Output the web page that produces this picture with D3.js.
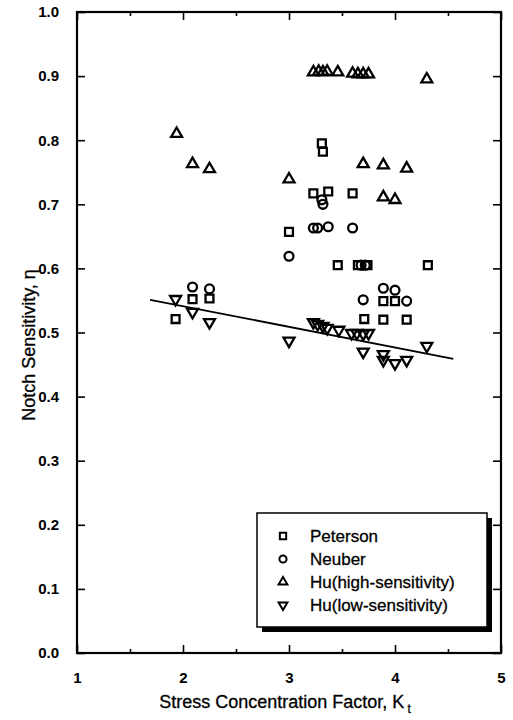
<!DOCTYPE html>
<html>
<head>
<meta charset="utf-8">
<script src="https://cdn.jsdelivr.net/npm/d3@7"></script>
<style>
  body { margin: 0; background: #fff; }
  text { font-family: "Liberation Sans", Arial, sans-serif; fill: #000; }
</style>
</head>
<body>
<div id="chart"></div>
<script>
// data
var peterson = [[1.93,0.521],[2.09,0.552],[2.25,0.553],[3.0,0.657],[3.23,0.717],[3.37,0.720],
  [3.60,0.717],[3.31,0.795],[3.32,0.782],[3.46,0.605],[3.65,0.605],[3.74,0.605],[4.31,0.605],
  [3.89,0.549],[4.0,0.549],[3.71,0.521],[3.89,0.520],[4.11,0.520]];
var neuber = [[2.09,0.571],[2.25,0.568],[3.0,0.619],[3.23,0.663],[3.27,0.663],[3.37,0.665],
  [3.60,0.663],[3.31,0.707],[3.32,0.700],[3.68,0.605],[3.72,0.605],[3.89,0.569],[4.0,0.566],
  [3.70,0.551],[4.11,0.549]];
var huHigh = [[1.94,0.81],[2.09,0.763],[2.25,0.755],[3.0,0.739],[3.70,0.763],[3.89,0.761],
  [4.11,0.756],[3.89,0.711],[4.0,0.707],[3.23,0.906],[3.28,0.907],[3.32,0.906],[3.36,0.907],
  [3.46,0.906],[3.60,0.904],[3.65,0.903],[3.70,0.903],[3.75,0.903],[4.30,0.895]];
var huLow = [[1.93,0.552],[2.09,0.532],[2.25,0.516],[3.0,0.487],[3.23,0.516],[3.27,0.513],
  [3.32,0.510],[3.36,0.507],[3.47,0.504],[3.59,0.499],[3.64,0.499],[3.70,0.498],[3.75,0.499],
  [3.70,0.470],[3.89,0.466],[3.89,0.457],[4.0,0.452],[4.11,0.457],[4.30,0.479]];
var fitLine = [[1.69,0.551],[4.55,0.459]];

var xTicks = [1,2,3,4,5];
var xMinor = [1.5,2.5,3.5,4.5];
var yTicks = [0,0.1,0.2,0.3,0.4,0.5,0.6,0.7,0.8,0.9,1.0];
var legendNames = ["Peterson","Neuber","Hu(high-sensitivity)","Hu(low-sensitivity)"];

var width = 513, height = 720;
var margin = {left: 77, right: 12, top: 12, bottom: 67};

var svg = d3.select("#chart").append("svg")
    .attr("width", width)
    .attr("height", height);

var x = d3.scaleLinear().domain([1,5]).range([margin.left, width - margin.right]);
var y = d3.scaleLinear().domain([0,1]).range([height - margin.bottom, margin.top]);

var plotW = x(5) - x(1), plotH = y(0) - y(1);

//axes, ticks pointing inward
svg.append("g").attr("transform","translate(0," + y(0) + ")")
    .call(d3.axisBottom(x).tickValues(xTicks).tickSize(-8).tickFormat(d3.format("d")).tickPadding(19));
svg.append("g").attr("transform","translate(0," + y(0) + ")")
    .call(d3.axisBottom(x).tickValues(xMinor).tickSize(-4).tickFormat(""));
svg.append("g").attr("transform","translate(0," + y(1) + ")")
    .call(d3.axisTop(x).tickValues(xTicks).tickSize(-8).tickFormat(""));
svg.append("g").attr("transform","translate(0," + y(1) + ")")
    .call(d3.axisTop(x).tickValues(xMinor).tickSize(-4).tickFormat(""));
svg.append("g").attr("transform","translate(" + x(1) + ",0)")
    .call(d3.axisLeft(y).tickValues(yTicks).tickSize(-8).tickFormat(d3.format(".1f")).tickPadding(18));
svg.append("g").attr("transform","translate(" + x(5) + ",0)")
    .call(d3.axisRight(y).tickValues(yTicks).tickSize(-8).tickFormat(""));

svg.selectAll(".domain").remove();
svg.selectAll(".tick line").attr("stroke","#000").attr("stroke-width",1.6);
svg.selectAll(".tick text").style("font-size","15px").style("font-weight","bold")
    .style("font-family","'Liberation Sans', Arial, sans-serif");

svg.append("rect")
    .attr("x", x(1)).attr("y", y(1))
    .attr("width", plotW).attr("height", plotH)
    .attr("fill","none").attr("stroke","#000").attr("stroke-width",2.2);

// fit line
var line = d3.line().x(d => x(d[0])).y(d => y(d[1]));
svg.append("path").datum(fitLine)
    .attr("d", line)
    .attr("fill","none").attr("stroke","#000").attr("stroke-width",1.8);

// markers
var sq = d3.symbol().type(d3.symbolSquare).size(62);
var ci = d3.symbol().type(d3.symbolCircle).size(62);
var tri = d3.symbol().type(d3.symbolTriangle).size(52);
var series = [
  {data: peterson, path: sq(), rot: 0},
  {data: neuber, path: ci(), rot: 0},
  {data: huHigh, path: tri(), rot: 0},
  {data: huLow, path: tri(), rot: 180}
];

series.forEach(function(s){
  svg.append("g").selectAll("path")
    .data(s.data)
    .enter()
    .append("path")
    .attr("d", s.path)
    .attr("transform", d => "translate(" + x(d[0]) + "," + y(d[1]) + ") rotate(" + s.rot + ")")
    .attr("fill","none")
    .attr("stroke","#000")
    .attr("stroke-width",2.3);
});

// legend
var lg = svg.append("g").attr("transform","translate(257,513)");
lg.append("rect").attr("x",5).attr("y",5).attr("width",230).attr("height",114).attr("fill","#000");
lg.append("rect").attr("x",0).attr("y",0).attr("width",230).attr("height",114)
    .attr("fill","#fff").attr("stroke","#000").attr("stroke-width",1.5);

var sqS = d3.symbol().type(d3.symbolSquare).size(40);
var ciS = d3.symbol().type(d3.symbolCircle).size(40);
var triS = d3.symbol().type(d3.symbolTriangle).size(34);
var legSyms = [[sqS(),0],[ciS(),0],[triS(),0],[triS(),180]];

legendNames.forEach(function(name,i){
  var row = lg.append("g").attr("transform","translate(0," + (23 + i*23) + ")");
  row.append("path").attr("d", legSyms[i][0])
     .attr("transform","translate(26,0) rotate(" + legSyms[i][1] + ")")
     .attr("fill","none").attr("stroke","#000").attr("stroke-width",2);
  row.append("text").attr("x",53).attr("y",6)
     .style("font-size","17px")
     .attr("stroke","#000").attr("stroke-width",0.3)
     .text(name);
});

// axis titles
var xt = svg.append("text")
    .attr("x", 285).attr("y", 708)
    .attr("text-anchor","middle")
    .attr("stroke","#000").attr("stroke-width",0.3)
    .style("font-size","18px");
xt.append("tspan").text("Stress Concentration Factor, K");
xt.append("tspan").attr("dx",3).attr("dy",5).style("font-size","12px").text("t");

svg.append("text")
    .attr("transform","translate(35,345) rotate(-90)")
    .attr("text-anchor","middle")
    .attr("stroke","#000").attr("stroke-width",0.3)
    .style("font-size","18px")
    .text("Notch Sensitivity, η");
</script>
</body>
</html>
